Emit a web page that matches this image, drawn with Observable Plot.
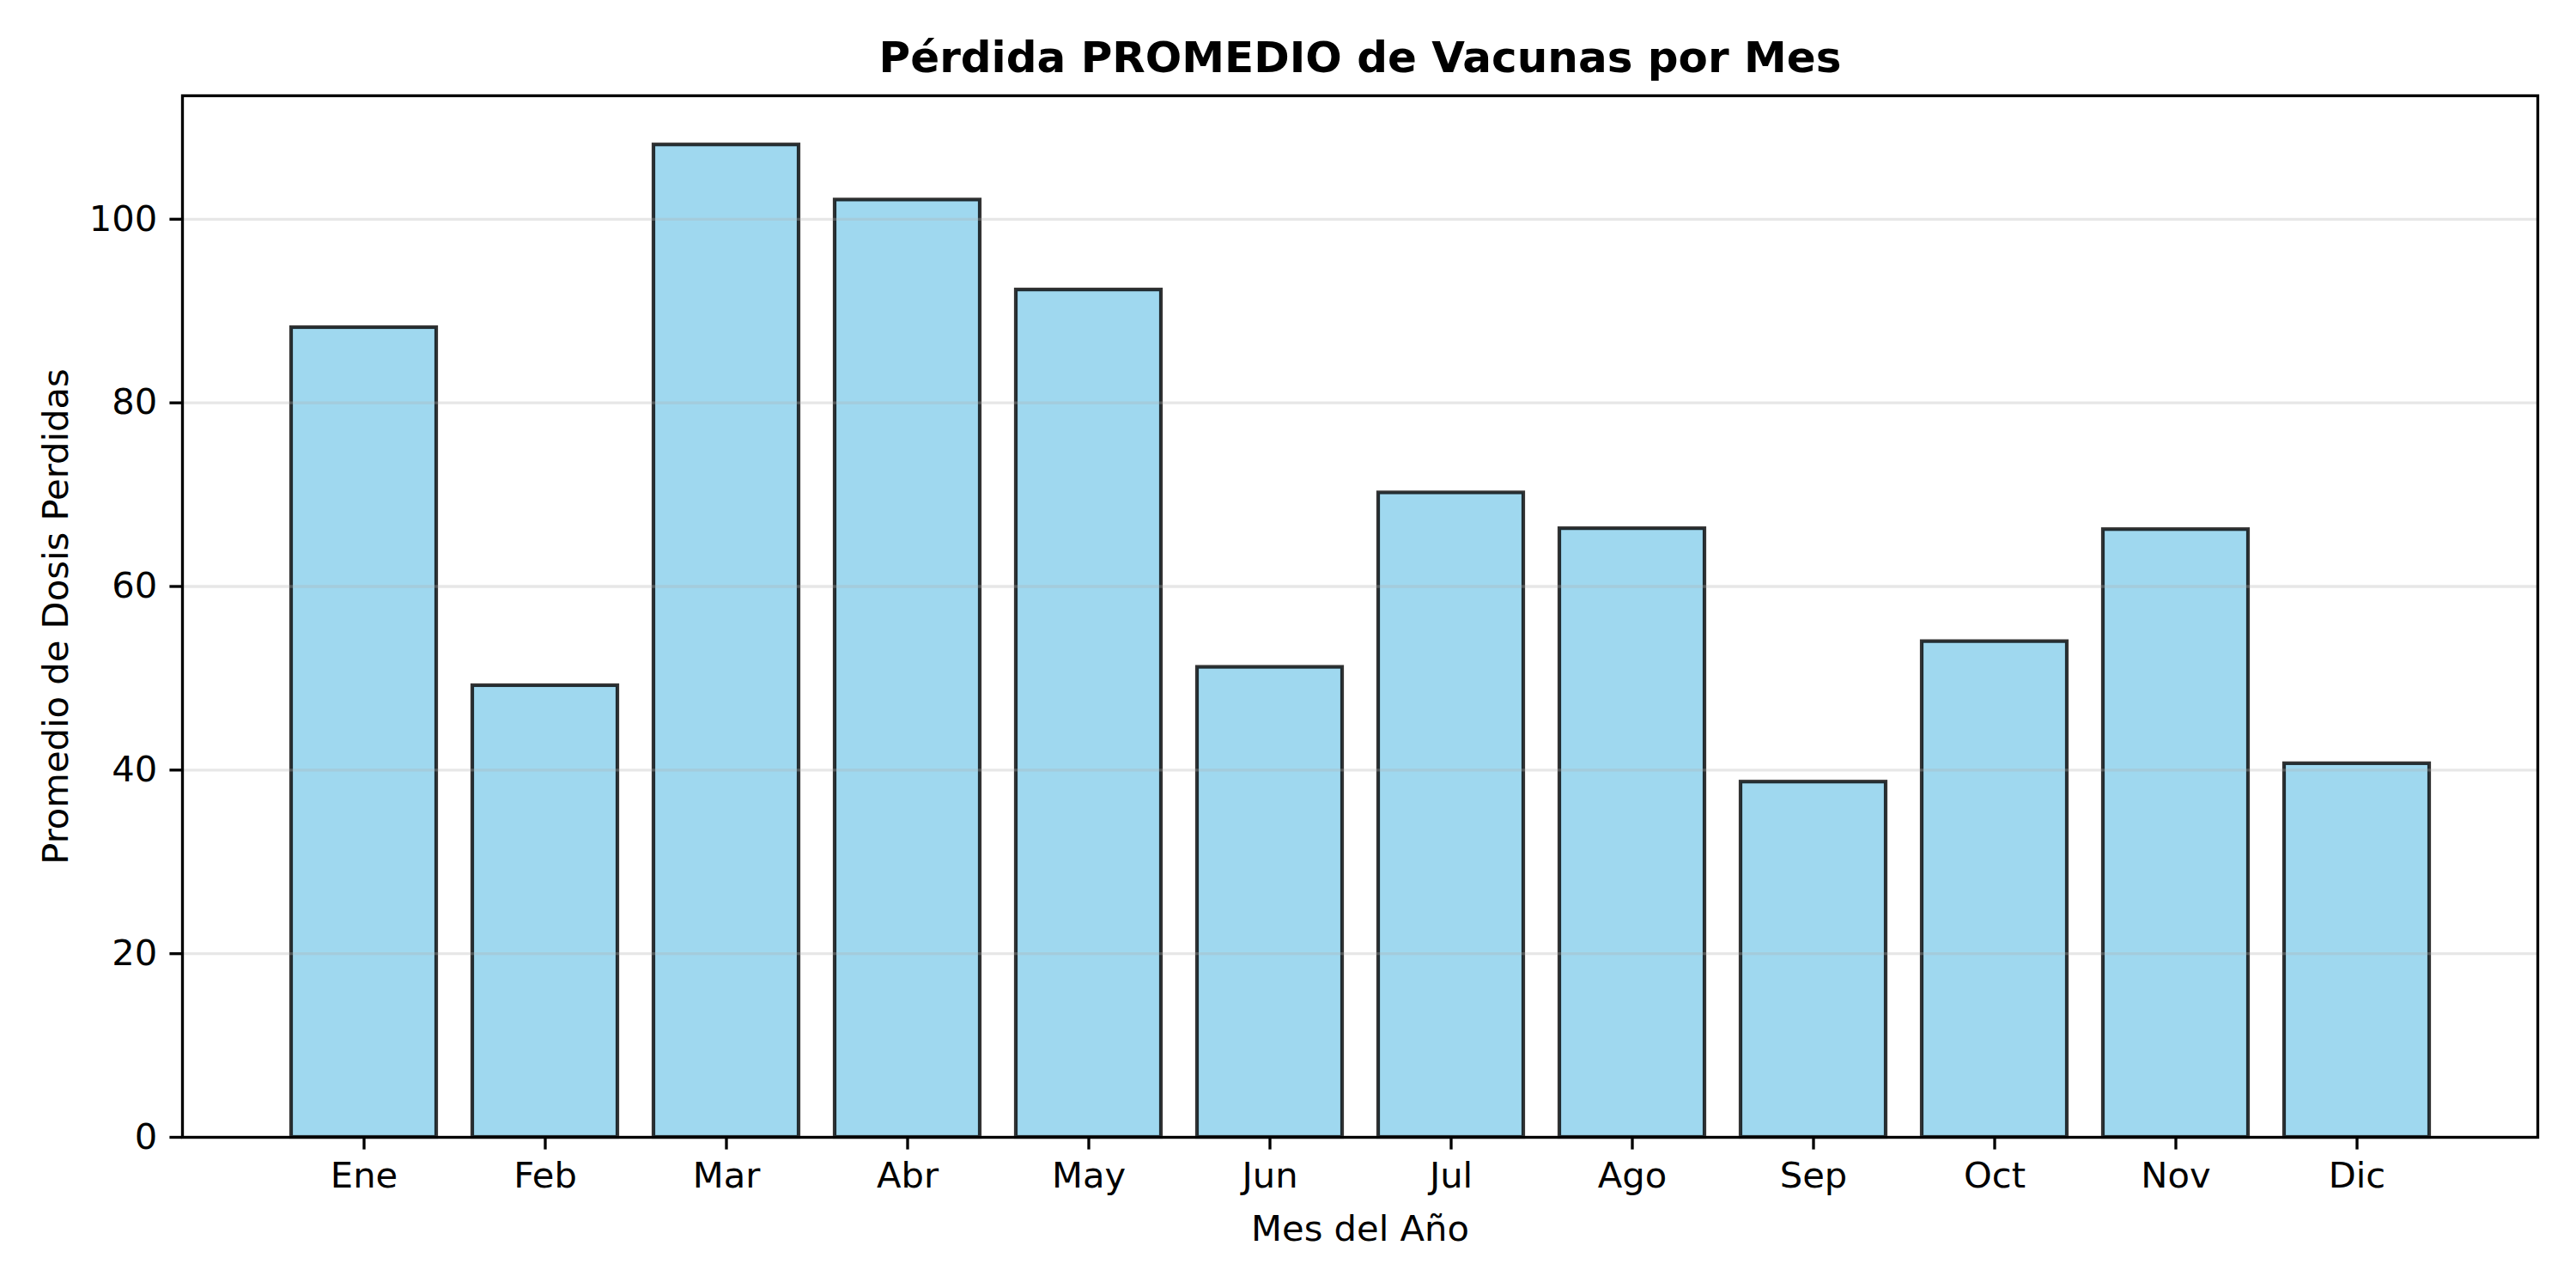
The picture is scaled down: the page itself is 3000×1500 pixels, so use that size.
<!DOCTYPE html>
<html>
<head>
<meta charset="utf-8">
<script src="https://cdn.jsdelivr.net/npm/d3@7"></script>
<script src="https://cdn.jsdelivr.net/npm/@observablehq/plot@0.6"></script>
<style>
  html, body { margin: 0; padding: 0; background: white; }
</style>
</head>
<body>
<div id="chart"></div>
<script>
const meses = ["Ene", "Feb", "Mar", "Abr", "May", "Jun", "Jul", "Ago", "Sep", "Oct", "Nov", "Dic"];
const promedio = [88.2, 49.2, 108.1, 102.1, 92.3, 51.2, 70.2, 66.3, 38.7, 54.0, 66.2, 40.7];
const yTicks = [0, 20, 40, 60, 80, 100];
const titulo = "Pérdida PROMEDIO de Vacunas por Mes";
const etiquetaX = "Mes del Año";
const etiquetaY = "Promedio de Dosis Perdidas";

const data = meses.map((m, i) => ({mes: m, valor: promedio[i]}));

const W = 3000, H = 1500;
const mL = 212, mR = 45, mT = 111, mB = 176;
const lw = 3.33;
const fs = 41.67;

const chart = Plot.plot({
  width: W,
  height: H,
  marginLeft: mL,
  marginRight: mR,
  marginTop: mT,
  marginBottom: mB,
  style: {fontFamily: "DejaVu Sans", fontSize: fs + "px", background: "white", color: "black"},
  x: {domain: meses, type: "band", paddingInner: 0.2, paddingOuter: 0.59, align: 0.5},
  y: {domain: [0, 113.45]},
  marks: [
    Plot.barY(data, {
      x: "mes", y: "valor",
      fill: "#87CEEB", fillOpacity: 0.8,
      stroke: "black", strokeOpacity: 0.8, strokeWidth: 4.2
    }),
    Plot.gridY(yTicks, {stroke: "#b0b0b0", strokeOpacity: 0.3, strokeWidth: lw}),
    Plot.axisX({tickSize: 14.6, tickPadding: 14.6, strokeWidth: lw, fontSize: fs, label: null}),
    Plot.axisY({ticks: yTicks, tickSize: 14.6, tickPadding: 14.6, strokeWidth: lw, fontSize: fs, label: null}),
    Plot.frame({stroke: "black", strokeWidth: lw}),
    Plot.text([titulo], {text: d => d, frameAnchor: "top", dy: -44, fontSize: 50, fontWeight: "bold", lineAnchor: "middle", textAnchor: "middle"}),
    Plot.text([etiquetaX], {text: d => d, frameAnchor: "bottom", dy: 107, fontSize: fs, lineAnchor: "middle", textAnchor: "middle"}),
    Plot.text([etiquetaY], {text: d => d, frameAnchor: "left", dx: -147, rotate: -90, fontSize: fs, lineAnchor: "middle", textAnchor: "middle"})
  ]
});
document.getElementById("chart").appendChild(chart);
</script>
</body>
</html>
